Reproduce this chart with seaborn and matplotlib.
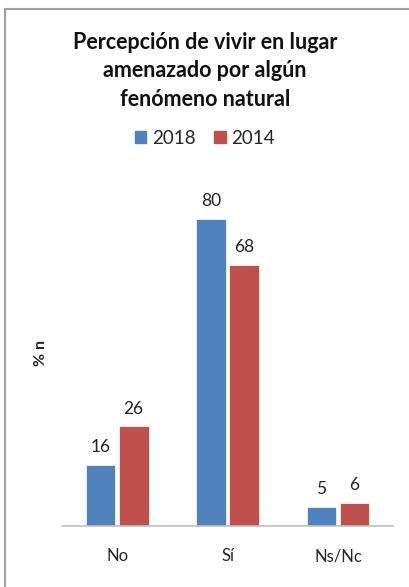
import matplotlib
matplotlib.use("Agg")
import matplotlib.pyplot as plt
import seaborn as sns
import pandas as pd
from matplotlib.lines import Line2D

categories = ["No", "Sí", "Ns/Nc"]
years = ["2018", "2014"]
vals_2018 = [16, 80, 5]
vals_2014 = [26, 68, 6]

df = pd.DataFrame({
    "cat": categories * 2,
    "year": [years[0]] * 3 + [years[1]] * 3,
    "val": vals_2018 + vals_2014,
})

sns.set_style("white")
plt.rcParams["font.family"] = ["Lato", "DejaVu Sans"]

fig = plt.figure(figsize=(4.10, 5.87), dpi=100)
ax = fig.add_axes([0.151, 0.104, 0.808, 0.588])

sns.barplot(data=df, x="cat", y="val", hue="year", hue_order=years,
            palette=["#4F81BD", "#C0504D"], saturation=1, width=0.6, gap=0.1,
            edgecolor="white", linewidth=0.5, ax=ax, legend=False)

for c in ax.containers:
    ax.bar_label(c, padding=7, fontsize=12.5, color="#222222")

ax.set_xlim(-0.5, 2.5)
ax.set_ylim(0, 90)
ax.set_yticks([])
ax.set_xlabel("")
ax.set_ylabel("% n", fontsize=11.5, fontweight="bold", labelpad=10)
ax.tick_params(axis="x", length=0, pad=16, labelsize=12)
for s in ["top", "right", "left"]:
    ax.spines[s].set_visible(False)
ax.spines["bottom"].set_color("#bfbfbf")
ax.spines["bottom"].set_linewidth(1.2)

fig.text(0.5, 0.945, "Percepción de vivir en lugar\namenazado por algún\nfenómeno natural",
         ha="center", va="top", fontsize=15.5, fontweight="bold", linespacing=1.42,
         color="#111111")

handles = [plt.Rectangle((0, 0), 1, 1, color="#4F81BD"),
           plt.Rectangle((0, 0), 1, 1, color="#C0504D")]
fig.legend(handles, years, loc="center", bbox_to_anchor=(0.5, 0.764), ncol=2,
           frameon=False, fontsize=13.5, handlelength=0.6, handleheight=0.6,
           handletextpad=0.3, columnspacing=1.0)

# outer frame (top and left edges visible)
fig.add_artist(Line2D([0.013, 1.0], [0.985, 0.985], color="#a0a0a0", lw=1.5))
fig.add_artist(Line2D([0.013, 0.013], [0.0, 0.985], color="#a0a0a0", lw=1.5))

fig.savefig("out.png", dpi=100)
